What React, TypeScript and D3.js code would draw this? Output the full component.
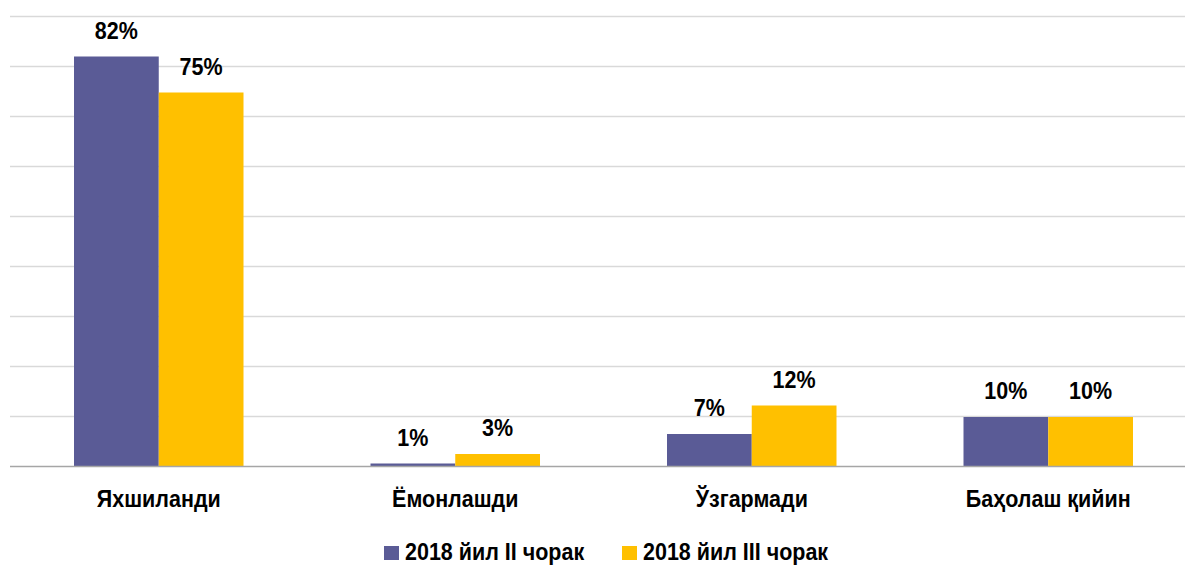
import React from "react";
import * as d3 from "d3";

const categories = ["Яхшиланди", "Ёмонлашди", "Ўзгармади", "Баҳолаш қийин"];
const seriesNames = ["2018 йил II чорак", "2018 йил III чорак"];
const seriesQ2 = [82, 0.6, 6.5, 9.9];
const seriesQ3 = [74.8, 2.5, 12.2, 9.9];
const colors = ["#5A5B96", "#FFC000"];
const yTicks = [0, 10, 20, 30, 40, 50, 60, 70, 80, 90];

const W = 1185;
const H = 565;

export default function App() {
  React.useEffect(() => {
    document.body.style.margin = "0";
  }, []);

  const x = d3
    .scaleBand<string>()
    .domain(categories)
    .range([10.5, 10.5 + 4 * 296.5])
    .paddingInner(127 / 296.5)
    .paddingOuter(63.5 / 296.5);
  const y = d3.scaleLinear().domain([0, 90]).range([466.5, 16.5]);
  const series = [seriesQ2, seriesQ3];
  const inner = d3.scaleBand<number>().domain([0, 1]).range([0, x.bandwidth()]);

  const font = "'Liberation Sans', Arial, sans-serif";
  const textT = (tx: number, ty: number) => `translate(${tx},${ty}) scale(1,1.15)`;

  return (
    <svg width={W} height={H} style={{ display: "block", background: "#fff" }}>
      {yTicks.filter((t) => t > 0).map((t) => (
        <line key={t} x1={10} x2={W} y1={y(t)} y2={y(t)} stroke="#D9D9D9" strokeWidth={1.5} />
      ))}
      {categories.map((c, i) => (
        <g key={c}>
          {series.map((s, j) => {
            const bx = (x(c) as number) + (inner(j) as number);
            const bw = inner.bandwidth();
            const top = y(s[i]);
            return (
              <g key={j}>
                <rect x={bx} y={top} width={bw} height={y(0) - top} fill={colors[j]} />
                <text
                  transform={textT(bx + bw / 2, top - 18)}
                  textAnchor="middle"
                  fontFamily={font}
                  fontWeight="bold"
                  fontSize={21.5}
                  fill="#000"
                >
                  {Math.round(s[i])}%
                </text>
              </g>
            );
          })}
          <text
            transform={textT((x(c) as number) + x.bandwidth() / 2, 507)}
            textAnchor="middle"
            fontFamily={font}
            fontWeight="bold"
            fontSize={21.5}
            fill="#000"
          >
            {c}
          </text>
        </g>
      ))}
      <line x1={10} x2={W} y1={y(0)} y2={y(0)} stroke="#A6A6A6" strokeWidth={1.5} />
      {seriesNames.map((n, j) => {
        const lx = j === 0 ? 384 : 622;
        return (
          <g key={n}>
            <rect x={lx} y={546} width={15} height={14} fill={colors[j]} />
            <text transform={textT(lx + 21, 560)} fontFamily={font} fontWeight="bold" fontSize={21.5} fill="#000">
              {n}
            </text>
          </g>
        );
      })}
    </svg>
  );
}
